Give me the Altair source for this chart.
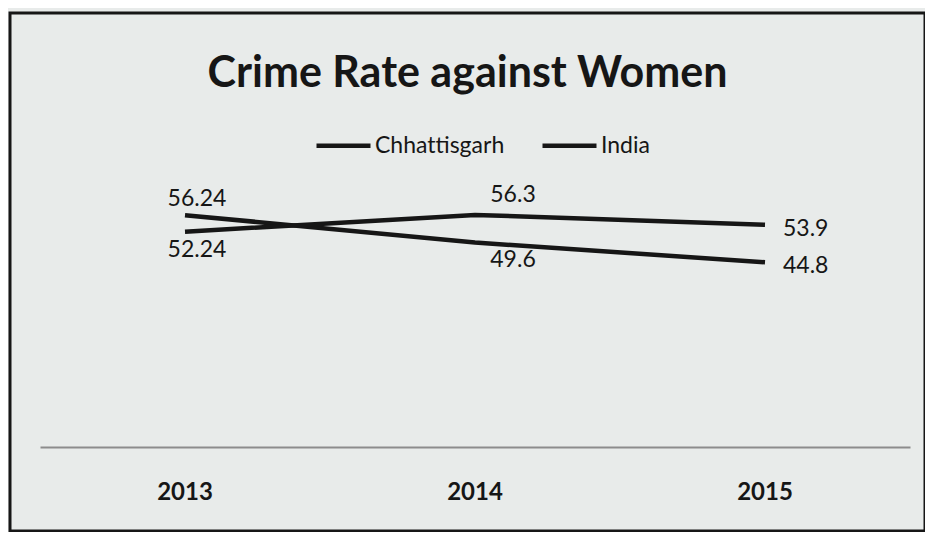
import altair as alt
import pandas as pd

years = ["2013", "2014", "2015"]
chhattisgarh = [56.24, 49.6, 44.8]
india = [52.24, 56.3, 53.9]
series_names = ["Chhattisgarh", "India"]

rows = []
for name, vals in zip(series_names, [chhattisgarh, india]):
    for yr, v in zip(years, vals):
        rows.append({"Year": yr, "Series": name, "Rate": v})
df = pd.DataFrame(rows)

FONT = "Lato"
INK = "#161616"
BG = "#e8ebea"

x_enc = alt.X(
    "Year:N",
    sort=years,
    scale=alt.Scale(type="band", range=[30, 900], paddingInner=0, paddingOuter=0),
    axis=alt.Axis(
        title=None, orient="bottom", offset=-84, labelAngle=0,
        labelFont=FONT, labelFontSize=24, labelFontWeight="bold", labelColor=INK,
        labelPadding=33, ticks=False, tickSize=0,
        domainColor="#8c8c8c", domainWidth=2, grid=False,
    ),
)
y_enc = alt.Y("Rate:Q", scale=alt.Scale(domain=[-20.4, 105.3], nice=False, zero=False), axis=None)

base = alt.Chart(df)

line = base.mark_line(strokeWidth=4.5).encode(
    x=x_enc,
    y=y_enc,
    color=alt.Color(
        "Series:N",
        sort=series_names,
        scale=alt.Scale(domain=series_names, range=[INK, INK]),
        legend=alt.Legend(
            orient="none", legendX=304, legendY=103, direction="horizontal",
            title=None, symbolType="stroke", symbolSize=2916, symbolStrokeWidth=4.5,
            labelFont=FONT, labelFontSize=23, labelColor=INK, columnPadding=28,
            labelOffset=2, padding=0,
            labelExpr="replace(datum.label, 'tt', 't\u200ct')",
        ),
    ),
)

layers = [line]
label_specs = [
    ("2013", "max", 12, -16),
    ("2013", "min", 12, 18),
    ("2014", "max", 38, -20),
    ("2014", "min", 38, 17),
]
for yr, which, dx, dy in label_specs:
    layers.append(
        base.transform_filter(alt.datum.Year == yr)
        .transform_joinaggregate(vmax="max(Rate)", vmin="min(Rate)")
        .transform_filter(alt.datum.Rate == (alt.datum.vmax if which == "max" else alt.datum.vmin))
        .mark_text(font=FONT, fontSize=23, color=INK, dx=dx, dy=dy, baseline="middle")
        .encode(x=x_enc, y=y_enc, text=alt.Text("Rate:Q"))
    )
layers.append(
    base.transform_filter(alt.datum.Year == "2015")
    .mark_text(font=FONT, fontSize=23, color=INK, dx=18, dy=4, align="left", baseline="middle")
    .encode(x=x_enc, y=y_enc, text=alt.Text("Rate:Q"))
)

chart = (
    alt.layer(*layers)
    .properties(
        width=915,
        height=518,
        autosize="none",
        padding={"left": 2, "top": 5, "right": 0, "bottom": 1},
        background=BG,
        title=alt.Title(
            "Crime Rate against Women", font=FONT, fontSize=43, fontWeight="bold",
            color=INK, anchor="middle", offset=-83,
        ),
    )
    .configure_view(stroke=INK, strokeWidth=3, fill=BG)
)

chart.save("out.html", embed_options={"renderer": "svg", "actions": False})
